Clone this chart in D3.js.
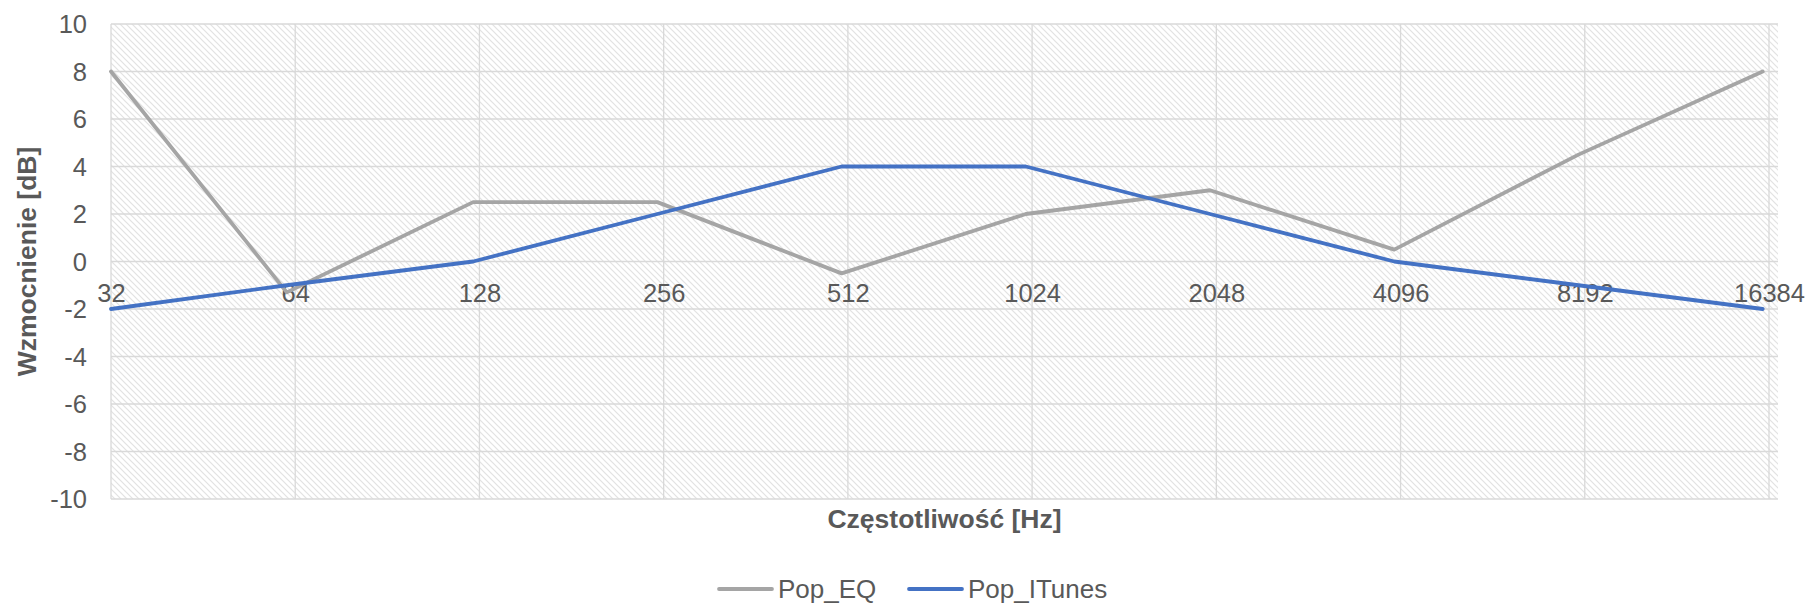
<!DOCTYPE html>
<html>
<head>
<meta charset="utf-8">
<script src="https://cdn.jsdelivr.net/npm/d3@7"></script>
<style>
  html, body { margin: 0; padding: 0; background: #fff; }
  svg { display: block; font-family: "Liberation Sans", Arial, sans-serif; }
</style>
</head>
<body>
<script>
// ---- data ----
const frequencies = [32, 62, 125, 250, 500, 1000, 2000, 4000, 8000, 16000];
const popEQ       = [8, -1.3, 2.5, 2.5, -0.5, 2, 3, 0.5, 4.5, 8];
const popITunes   = [-2, -1, 0, 2, 4, 4, 2, 0, -1, -2];
const xTickValues = [32, 64, 128, 256, 512, 1024, 2048, 4096, 8192, 16384];
const yTickValues = [-10, -8, -6, -4, -2, 0, 2, 4, 6, 8, 10];
const seriesNames = ["Pop_EQ", "Pop_ITunes"];
const xTitle = "Częstotliwość [Hz]";
const yTitle = "Wzmocnienie [dB]";

const W = 1812, H = 605;
const plot = { left: 111, right: 1778, top: 24, bottom: 499 };
const textColor = "#595959";
const gridColor = "#D9D9D9";
const colors = ["#A5A5A5", "#4472C4"];

const svg = d3.select("body").append("svg").attr("width", W).attr("height", H);

const defs = svg.append("defs");
const pat = defs.append("pattern")
  .attr("id", "hatch").attr("patternUnits", "userSpaceOnUse")
  .attr("width", 6).attr("height", 6);
pat.append("rect").attr("width", 6).attr("height", 6).attr("fill", "#fff");
pat.append("path")
  .attr("d", "M0,0 L6,6 M-1,5 L1,7 M5,-1 L7,1")
  .attr("stroke", "#E2E2E2").attr("stroke-width", 1.2);

const x = d3.scaleLog().base(2).domain([32, 16384]).range([plot.left, 1769]);
const y = d3.scaleLinear().domain([-10, 10]).range([plot.bottom, plot.top]);

// plot background
svg.append("rect")
  .attr("x", plot.left).attr("y", plot.top)
  .attr("width", plot.right - plot.left).attr("height", plot.bottom - plot.top)
  .attr("fill", "url(#hatch)");

// horizontal gridlines
svg.append("g").selectAll("line").data(yTickValues).join("line")
  .attr("x1", plot.left).attr("x2", plot.right)
  .attr("y1", d => y(d)).attr("y2", d => y(d))
  .attr("stroke", gridColor).attr("stroke-width", 1.3);

// vertical gridlines
svg.append("g").selectAll("line").data(xTickValues).join("line")
  .attr("x1", d => x(d)).attr("x2", d => x(d))
  .attr("y1", plot.top).attr("y2", plot.bottom)
  .attr("stroke", gridColor).attr("stroke-width", 1.3);

// y axis labels
const yAxis = d3.axisLeft(y).tickValues(yTickValues).tickFormat(d => String(d)).tickSize(0).tickPadding(0);
const gy = svg.append("g").attr("transform", `translate(87,0)`).call(yAxis);
gy.select(".domain").remove();
gy.selectAll("text")
  .attr("fill", textColor).attr("font-size", "25.5px")
  .attr("font-family", "'Liberation Sans', Arial, sans-serif")
  .attr("dy", "0.35em").attr("x", 0);

// x axis labels (axis crosses at 0)
const xAxis = d3.axisBottom(x).tickValues(xTickValues).tickFormat(d => String(d)).tickSize(0).tickPadding(0);
const gx = svg.append("g").attr("transform", `translate(0,${y(0)})`).call(xAxis);
gx.select(".domain").remove();
gx.selectAll("text")
  .attr("fill", textColor).attr("font-size", "25.5px")
  .attr("font-family", "'Liberation Sans', Arial, sans-serif")
  .attr("dy", 0).attr("y", 40);

// lines
const series = [popEQ, popITunes];
const lineGen = d3.line().x((d, i) => x(frequencies[i])).y(d => y(d));
series.forEach((vals, k) => {
  svg.append("path")
    .datum(vals)
    .attr("d", lineGen)
    .attr("fill", "none")
    .attr("stroke", colors[k])
    .attr("stroke-width", 3.8)
    .attr("stroke-linejoin", "round")
    .attr("stroke-linecap", "round");
});

// axis titles
svg.append("text")
  .attr("x", (plot.left + plot.right) / 2).attr("y", 528)
  .attr("text-anchor", "middle")
  .attr("font-size", "26.5px").attr("font-weight", "bold")
  .attr("fill", textColor).text(xTitle);

svg.append("text")
  .attr("transform", `translate(36,${(plot.top + plot.bottom) / 2}) rotate(-90)`)
  .attr("text-anchor", "middle")
  .attr("font-size", "26.5px").attr("font-weight", "bold")
  .attr("fill", textColor).text(yTitle);

// legend
const legendItems = [
  { name: seriesNames[0], color: colors[0], x0: 719 },
  { name: seriesNames[1], color: colors[1], x0: 909 }
];
const lg = svg.append("g");
legendItems.forEach(it => {
  lg.append("line")
    .attr("x1", it.x0).attr("x2", it.x0 + 53)
    .attr("y1", 589).attr("y2", 589)
    .attr("stroke", it.color).attr("stroke-width", 3.8)
    .attr("stroke-linecap", "round");
  lg.append("text")
    .attr("x", it.x0 + 59).attr("y", 598)
    .attr("font-size", "26px").attr("fill", textColor)
    .text(it.name);
});
</script>
</body>
</html>
